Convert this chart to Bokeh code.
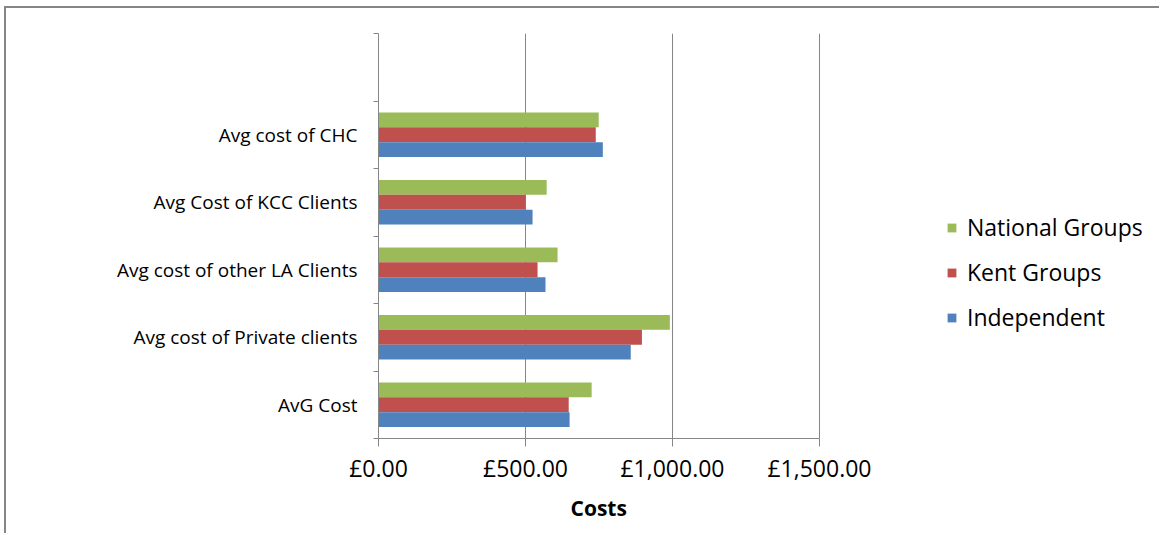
from bokeh.plotting import figure
from bokeh.models import FixedTicker, Legend, LegendItem, ColumnDataSource, Range1d, Title
from bokeh.transform import dodge
from bokeh.embed import file_html
from bokeh.resources import INLINE

# ---- data ----
categories = ["AvG Cost", "Avg cost of Private clients", "Avg cost of other LA Clients",
              "Avg Cost of KCC Clients", "Avg cost of CHC"]
independent = [650, 858, 568, 524, 763]
kent_groups = [647, 896, 541, 500, 739]
national_groups = [725, 991, 609, 572, 749]
series_names = ["National Groups", "Kent Groups", "Independent"]
x_ticks = [0, 500, 1000, 1500]
x_tick_labels = ["£0.00", "£500.00", "£1,000.00", "£1,500.00"]
x_title = "Costs"
n_slots = 6  # five categories plus one empty slot at the top

GREEN = "#9BBB59"
RED = "#C0504D"
BLUE = "#4F81BD"
GREY = "#868686"
FONT = "Open Sans"

# layout (pixels inside the figure)
FRAME_LEFT = 372
AXIS_PX = 441          # pixels covered by the 0..1500 axis
FIG_W, FIG_H = 1155, 527
x_max = x_ticks[-1] * (FIG_W - FRAME_LEFT) / AXIS_PX

pos = list(range(len(categories)))
src = ColumnDataSource(dict(pos=pos, ind=independent, kent=kent_groups, nat=national_groups))

p = figure(width=FIG_W, height=FIG_H, output_backend="svg", toolbar_location=None,
           x_range=Range1d(0, x_max), y_range=Range1d(-0.5, n_slots - 0.5),
           min_border_left=FRAME_LEFT, min_border_right=0, min_border_top=25, min_border_bottom=97)
p.styles = {"margin-left": "4px", "margin-top": "6px",
            "border-left": "2px solid #868686", "border-top": "2px solid #868686"}
p.outline_line_color = None
p.background_fill_color = "white"
p.border_fill_color = "white"

bh = 0.22
r_nat = p.hbar(y=dodge("pos", bh, range=p.y_range), left=0, right="nat", height=bh,
               source=src, fill_color=GREEN, line_color=None)
r_kent = p.hbar(y=dodge("pos", 0, range=p.y_range), left=0, right="kent", height=bh,
                source=src, fill_color=RED, line_color=None)
r_ind = p.hbar(y=dodge("pos", -bh, range=p.y_range), left=0, right="ind", height=bh,
               source=src, fill_color=BLUE, line_color=None)

# x axis
p.xaxis.bounds = (x_ticks[0], x_ticks[-1])
p.xaxis.ticker = FixedTicker(ticks=x_ticks)
p.xaxis.major_label_overrides = {t: l for t, l in zip(x_ticks, x_tick_labels)}
p.xaxis.axis_line_color = GREY
p.xaxis.major_tick_line_color = GREY
p.xaxis.major_tick_out = 8
p.xaxis.major_tick_in = 0
p.xaxis.minor_tick_line_color = None
p.xaxis.major_label_text_font = FONT
p.xaxis.major_label_text_font_size = "23px"
p.xaxis.major_label_text_color = "black"
p.xaxis.major_label_standoff = 5

# axis title placed under the 0..1500 span
p.add_layout(Title(text=x_title, align="left", offset=192, standoff=10,
                   text_font=FONT, text_font_size="21px", text_font_style="bold",
                   text_color="black"), "below")

# y axis
p.yaxis.ticker = FixedTicker(ticks=pos, minor_ticks=[i - 0.5 for i in range(n_slots + 1)])
p.yaxis.major_label_overrides = {i: c for i, c in zip(pos, categories)}
p.yaxis.axis_line_color = GREY
p.yaxis.major_tick_line_color = None
p.yaxis.major_tick_out = 0
p.yaxis.major_tick_in = 0
p.yaxis.minor_tick_line_color = GREY
p.yaxis.minor_tick_out = 5
p.yaxis.minor_tick_in = 0
p.yaxis.major_label_text_font = FONT
p.yaxis.major_label_text_font_size = "19px"
p.yaxis.major_label_text_color = "black"
p.yaxis.major_label_standoff = 16

# grids
p.xgrid.ticker = FixedTicker(ticks=x_ticks)
p.xgrid.grid_line_color = GREY
p.ygrid.grid_line_color = None

legend = Legend(items=[LegendItem(label=series_names[0], renderers=[r_nat]),
                       LegendItem(label=series_names[1], renderers=[r_kent]),
                       LegendItem(label=series_names[2], renderers=[r_ind])],
                location=(568, 105), orientation="vertical",
                padding=0, margin=0, spacing=13,
                glyph_width=11, glyph_height=11, label_standoff=10, label_height=24,
                label_text_font=FONT, label_text_font_size="23px", label_text_color="black",
                border_line_color=None, background_fill_alpha=0)
p.add_layout(legend, "center")

open("out.html", "w").write(file_html(p, INLINE))
